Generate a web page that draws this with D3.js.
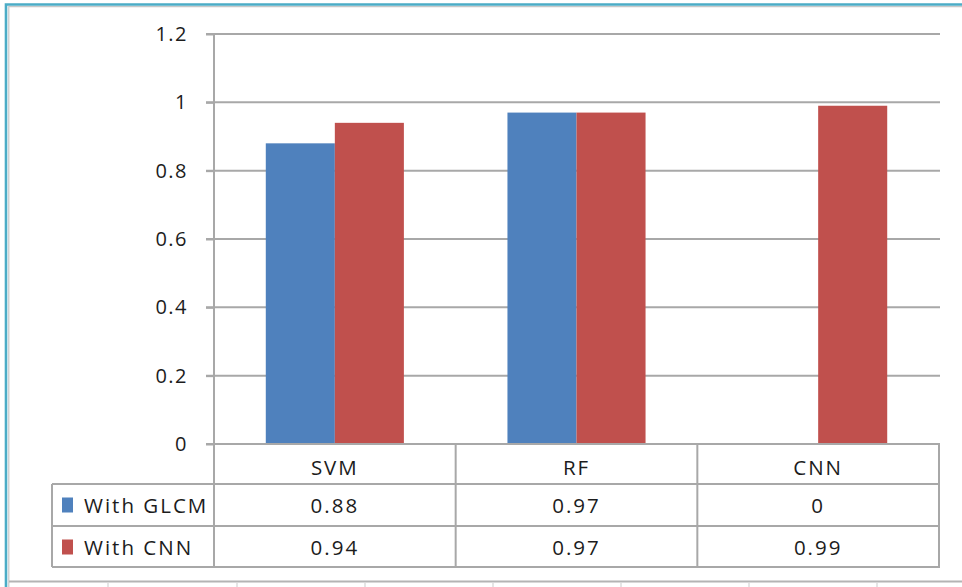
<!DOCTYPE html>
<html>
<head>
<meta charset="utf-8">
<script src="https://d3js.org/d3.v7.min.js"></script>
<style>
  html, body { margin: 0; padding: 0; background: #fff; }
  svg { display: block; }
  text { font-family: "Open Sans", "DejaVu Sans", sans-serif; fill: #1c1c1c; }
</style>
</head>
<body>
<svg id="chart" width="962" height="587"></svg>
<script>
// Classifiers and the accuracy of each feature set
const categories = ["SVM", "RF", "CNN"];
const seriesNames = ["With GLCM", "With CNN"];
const withGLCM = [0.88, 0.97, 0];
const withCNN = [0.94, 0.97, 0.99];
const yTicks = [0, 0.2, 0.4, 0.6, 0.8, 1, 1.2];
const colors = ["#4f81bd", "#c0504d"];

const seriesValues = [withGLCM, withCNN];

const svg = d3.select("#chart");
const W = 962, H = 587;
const gridColor = "#a8a8a8";
const labelSize = "20.5px";

// Outer frame
svg.append("path")
  .attr("d", `M6,${H} V4.5 H${W}`)
  .attr("fill", "none").attr("stroke", "#4bacc6").attr("stroke-width", 2.6);
svg.append("path")
  .attr("d", `M8.8,${H} V6.6 H${W}`)
  .attr("fill", "none").attr("stroke", "#c8c8c8").attr("stroke-width", 1.2);
svg.append("line")
  .attr("x1", 9).attr("x2", W).attr("y1", 581.5).attr("y2", 581.5)
  .attr("stroke", "#b4b4b4").attr("stroke-width", 2);
svg.selectAll("line.foot")
  .data([108, 237, 365, 493, 621, 749, 877])
  .enter().append("line").attr("class", "foot")
  .attr("x1", d => d).attr("x2", d => d).attr("y1", 583).attr("y2", 587)
  .attr("stroke", "#d4d4d4").attr("stroke-width", 1.2);

// Scales
const plotLeft = 214, plotRight = 939, plotTop = 34, plotBottom = 444;
const y = d3.scaleLinear().domain([0, 1.2]).range([plotBottom, plotTop]);
const x0 = d3.scaleBand().domain(categories).range([plotLeft, plotRight]).paddingInner(0).paddingOuter(0);
const x1 = d3.scaleBand().domain(seriesNames).range([0, x0.bandwidth()]).paddingInner(0).paddingOuter(0.75);

// Horizontal gridlines
svg.append("g").selectAll("line")
  .data(yTicks.filter(t => t > 0))
  .enter().append("line")
  .attr("x1", plotLeft - 8).attr("x2", plotRight + 1)
  .attr("y1", d => y(d)).attr("y2", d => y(d))
  .attr("stroke", gridColor).attr("stroke-width", 2);

// Y axis with left-pointing ticks
const yAxis = d3.axisLeft(y).tickValues(yTicks).tickSize(8).tickPadding(18)
  .tickFormat(d => d3.format("~g")(d));
const gy = svg.append("g").attr("transform", `translate(${plotLeft},0)`).call(yAxis);
gy.select(".domain").remove();
gy.selectAll(".tick line").attr("stroke", gridColor).attr("stroke-width", 2);
gy.selectAll(".tick text")
  .style("font-size", "20px").style("letter-spacing", "1.5px")
  .attr("fill", "#1c1c1c").attr("font-family", null);
svg.append("line")
  .attr("x1", plotLeft).attr("x2", plotLeft).attr("y1", plotTop).attr("y2", 567)
  .attr("stroke", gridColor).attr("stroke-width", 2);

// Bars
const groups = svg.append("g").selectAll("g")
  .data(categories)
  .enter().append("g")
  .attr("transform", d => `translate(${x0(d)},0)`);
groups.selectAll("rect")
  .data((c, i) => seriesNames.map((s, k) => ({ s, k, v: seriesValues[k][i] })))
  .enter().append("rect")
  .attr("x", d => x1(d.s))
  .attr("width", x1.bandwidth())
  .attr("y", d => y(d.v))
  .attr("height", d => y(0) - y(d.v))
  .attr("fill", d => colors[d.k]);

// Baseline
svg.append("line")
  .attr("x1", plotLeft - 8).attr("x2", plotRight + 1).attr("y1", y(0)).attr("y2", y(0))
  .attr("stroke", gridColor).attr("stroke-width", 2);

// Data table below the plot
const headerBottom = 484, row1Bottom = 526, tableBottom = 567, tableLeft = 52;
const rowMid = [505, 547];
const tbl = svg.append("g").attr("stroke", gridColor).attr("stroke-width", 2).attr("fill", "none");
// column separators
categories.forEach(c => {
  tbl.append("line").attr("x1", x0(c) + x0.bandwidth()).attr("x2", x0(c) + x0.bandwidth())
    .attr("y1", y(0)).attr("y2", tableBottom);
});
tbl.append("line").attr("x1", tableLeft).attr("x2", tableLeft).attr("y1", headerBottom).attr("y2", tableBottom);
[headerBottom, row1Bottom, tableBottom].forEach(yy => {
  tbl.append("line").attr("x1", tableLeft).attr("x2", plotRight + 1).attr("y1", yy).attr("y2", yy);
});

// header labels
svg.append("g").selectAll("text")
  .data(categories)
  .enter().append("text")
  .attr("x", d => x0(d) + x0.bandwidth() / 2)
  .attr("y", 467)
  .attr("text-anchor", "middle").attr("dominant-baseline", "central")
  .style("font-size", labelSize).style("letter-spacing", "2px")
  .text(d => d);

// legend keys and series names
seriesNames.forEach((s, k) => {
  svg.append("rect")
    .attr("x", 62).attr("y", rowMid[k] - 7.5).attr("width", 11).attr("height", 15)
    .attr("fill", colors[k]);
  svg.append("text")
    .attr("x", 84).attr("y", rowMid[k])
    .attr("dominant-baseline", "central")
    .style("font-size", labelSize).style("letter-spacing", "2px")
    .text(s);
  svg.append("g").selectAll("text")
    .data(seriesValues[k])
    .enter().append("text")
    .attr("x", (d, i) => x0(categories[i]) + x0.bandwidth() / 2)
    .attr("y", rowMid[k])
    .attr("text-anchor", "middle").attr("dominant-baseline", "central")
    .style("font-size", labelSize).style("letter-spacing", "2px")
    .text(d => d3.format("~g")(d));
});
</script>
</body>
</html>
